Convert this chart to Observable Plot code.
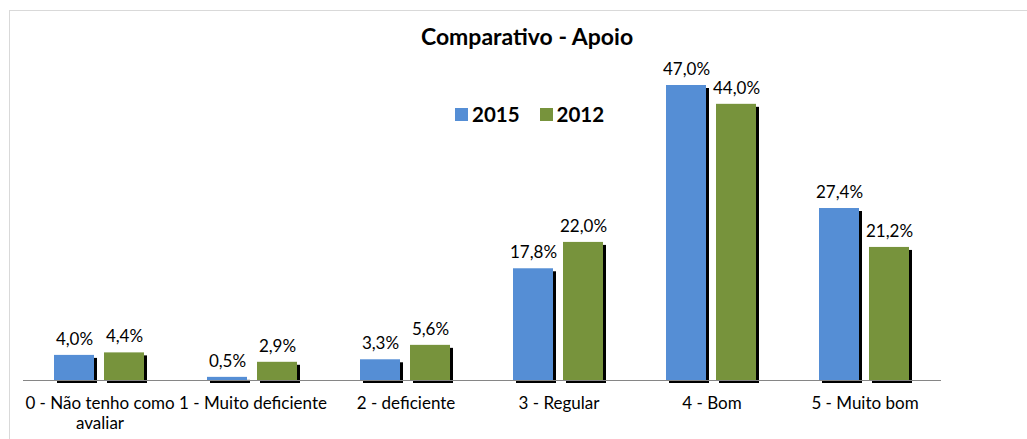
<!DOCTYPE html>
<html>
<head>
<meta charset="utf-8">
<script src="https://cdn.jsdelivr.net/npm/d3@7"></script>
<script src="https://cdn.jsdelivr.net/npm/@observablehq/plot@0.6"></script>
<style>
  body { margin: 0; background: #fff; }
  #wrap { position: relative; width: 1027px; height: 439px; font-family: Lato, sans-serif; overflow: hidden; }
  #border { position: absolute; left: 9px; top: 10px; width: 1030px; height: 440px; border-left: 1px solid #d9d9d9; border-top: 1px solid #d9d9d9; }
  #title { position: absolute; left: 0; width: 1054px; top: 22px; text-align: center; font-weight: bold; font-size: 23px; color: #000; }
  #legend { position: absolute; left: 455px; top: 102px; display: flex; align-items: center; font-weight: bold; font-size: 20.5px; color: #000; }
  .sw { width: 13px; height: 13px; display: inline-block; margin-right: 4px; }
  #chart { position: absolute; left: 0; top: 0; }
</style>
</head>
<body>
<div id="wrap">
  <div id="border"></div>
  <div id="chart"></div>
  <div id="title">Comparativo - Apoio</div>
  <div id="legend"></div>
</div>
<script>
const categories = ["0 - Não tenho como\navaliar", "1 - Muito deficiente", "2 - deficiente", "3 - Regular", "4 - Bom", "5 - Muito bom"];
const series = ["2015", "2012"];
const values2015 = [4.0, 0.5, 3.3, 17.8, 47.0, 27.4];
const values2012 = [4.4, 2.9, 5.6, 22.0, 44.0, 21.2];
const colors = ["#558ED5", "#77933C"];

const data = [];
categories.forEach((c, i) => {
  data.push({cat: c, year: series[0], v: values2015[i]});
  data.push({cat: c, year: series[1], v: values2012[i]});
});
const fmt = v => v.toFixed(1).replace(".", ",") + "%";

const chart = Plot.plot({
  width: 1027,
  height: 439,
  marginLeft: 20,
  marginRight: 84,
  marginTop: 0,
  marginBottom: 0,
  style: {fontFamily: "Lato, sans-serif", fontSize: "17px", background: "transparent", overflow: "visible"},
  fx: {domain: categories, range: [20, 943], padding: 0, label: null, axis: null},
  x: {domain: series, paddingInner: 0.196, paddingOuter: 0.606, axis: null},
  y: {domain: [0, 47], range: [380, 85], axis: null},
  color: {domain: series, range: colors},
  marks: [
    Plot.barY(data, {fx: "cat", x: "year", y: "v", fill: "#000", dx: 3, dy: 3}),
    Plot.barY(data, {fx: "cat", x: "year", y: "v", fill: "year"}),
    Plot.ruleY([0], {stroke: "#868686", strokeWidth: 1}),
    Plot.text(data, {fx: "cat", x: "year", y: "v", text: d => fmt(d.v), dy: -16, fill: "#000", fontSize: 17}),
    Plot.text(categories, {fx: d => d, y: () => 0, text: d => d, lineAnchor: "top", dy: 15, fontSize: 17, fill: "#000", lineHeight: 1.15})
  ]
});
document.getElementById("chart").appendChild(chart);

const legend = document.getElementById("legend");
series.forEach((s, i) => {
  const item = document.createElement("span");
  item.style.display = "flex";
  item.style.alignItems = "center";
  item.style.marginRight = i === 0 ? "20px" : "0";
  item.innerHTML = `<span class="sw" style="background:${colors[i]}"></span>${s}`;
  legend.appendChild(item);
});
</script>
</body>
</html>
